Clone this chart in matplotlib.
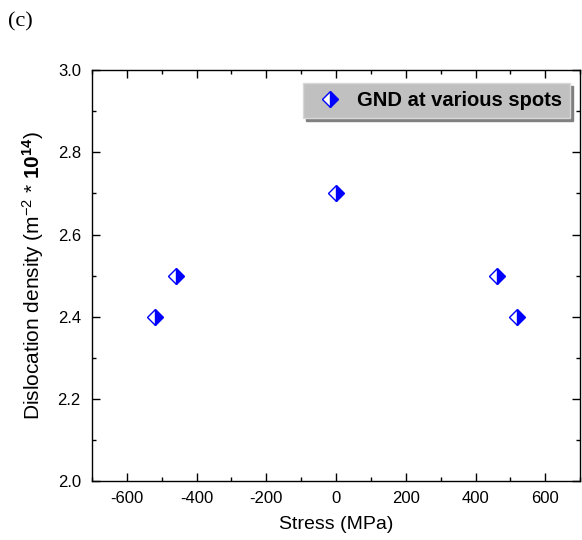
import numpy as np
import matplotlib.pyplot as plt
from matplotlib.ticker import MultipleLocator

plt.rcParams['font.family'] = ['Liberation Sans', 'DejaVu Sans']
plt.rcParams['mathtext.fontset'] = 'custom'
plt.rcParams['mathtext.rm'] = 'Liberation Sans'
plt.rcParams['mathtext.it'] = 'Liberation Sans:italic'
plt.rcParams['mathtext.bf'] = 'Liberation Sans:bold'
plt.rcParams['axes.unicode_minus'] = False

# Data
stress = [-520, -460, 0, 460, 520]
density = [2.4, 2.5, 2.7, 2.5, 2.4]

fig = plt.figure(figsize=(5.82, 5.40), dpi=100)
ax = fig.add_axes([0.158, 0.109, 0.839, 0.761])

ax.plot(stress, density, linestyle='none', marker='D', markersize=8,
        fillstyle='right', markerfacecolor='#0000ff',
        markerfacecoloralt='white', markeredgecolor='#0000ff',
        markeredgewidth=1.0, label='GND at various spots')

ax.set_xlim(-700, 700)
ax.set_ylim(2.0, 3.0)
ax.xaxis.set_major_locator(MultipleLocator(200))
ax.xaxis.set_minor_locator(MultipleLocator(100))
ax.yaxis.set_major_locator(MultipleLocator(0.2))
ax.yaxis.set_minor_locator(MultipleLocator(0.1))
ax.tick_params(which='both', direction='in', top=True, right=True,
               labeltop=False, labelright=False, labelsize=12, width=1)
ax.tick_params(which='major', length=6)
ax.tick_params(which='minor', length=3)
ax.tick_params(axis='x', pad=7)
ax.tick_params(axis='y', pad=8)
for s in ax.spines.values():
    s.set_linewidth(1)

ax.set_xlabel('Stress (MPa)', fontsize=14, labelpad=7)
ax.set_ylabel(r'Dislocation density (m$^{-2}$ * $\mathbf{10^{14}}$)',
              fontsize=15, labelpad=8)

leg = ax.legend(loc='upper right', bbox_to_anchor=(0.9796, 0.968),
                borderaxespad=0, fancybox=False,
                shadow={'color': '#808080', 'alpha': 1}, framealpha=1,
                facecolor='#c0c0c0', edgecolor='#d8d8d8',
                prop={'weight': 'bold', 'size': 14.5},
                handletextpad=0.4, borderpad=0.4, handlelength=1.9)

fig.text(0.014, 0.978, '(c)', fontsize=16, family='Liberation Serif',
         va='top', ha='left')

fig.savefig('out.png', dpi=100)
